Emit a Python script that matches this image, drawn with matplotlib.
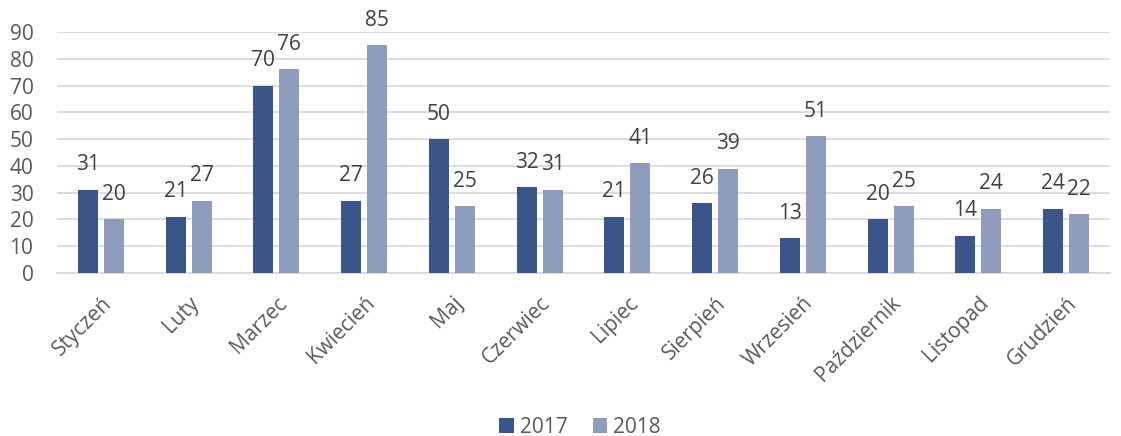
import matplotlib
matplotlib.use("Agg")
import matplotlib.pyplot as plt
import numpy as np

plt.rcParams['font.family'] = ['Open Sans', 'DejaVu Sans']

months = ["Styczeń", "Luty", "Marzec", "Kwiecień", "Maj", "Czerwiec", "Lipiec",
          "Sierpień", "Wrzesień", "Październik", "Listopad", "Grudzień"]
v2017 = [31, 21, 70, 27, 50, 32, 21, 26, 13, 20, 14, 24]
v2018 = [20, 27, 76, 85, 25, 31, 41, 39, 51, 25, 24, 22]
series_names = ["2017", "2018"]
colors = ["#3A5589", "#8F9DBC"]
yticks = list(range(0, 100, 10))

fs = 15

fig = plt.figure(figsize=(11.21, 4.36), dpi=100)
ax = fig.add_axes([57/1121, 1-273/436, (1110-57)/1121, (273-32)/436])

x = np.arange(len(months))
bw = 0.228
off = 0.148
b1 = ax.bar(x - off, v2017, bw, color=colors[0], label=series_names[0], zorder=3)
b2 = ax.bar(x + off, v2018, bw, color=colors[1], label=series_names[1], zorder=3)

txt_color = "#404040"
for bars, vals in ((b1, v2017), (b2, v2018)):
    for rect, v in zip(bars, vals):
        ax.annotate(str(v), (rect.get_x() + rect.get_width()/2, v),
                    xytext=(0, 18), textcoords="offset points",
                    ha="center", va="center", fontsize=fs, color=txt_color)

ax.set_xlim(-0.5, len(months) - 0.5)
ax.set_ylim(0, 90)
ax.set_yticks(yticks)
ax.yaxis.grid(True, color="#D9D9D9", linewidth=1.3, zorder=0)
ax.set_axisbelow(True)
for s in ["top", "right", "left"]:
    ax.spines[s].set_visible(False)
ax.spines["bottom"].set_color("#D9D9D9")
ax.spines["bottom"].set_linewidth(1.3)
ax.tick_params(axis="both", length=0, labelsize=fs, labelcolor="#595959")
ax.tick_params(axis="y", pad=17)
ax.set_xticks(x)
ax.set_xticklabels(months, rotation=45, ha="right", rotation_mode="anchor")
ax.tick_params(axis="x", pad=14)

fig.legend(handles=[b1, b2], labels=series_names, loc="center", bbox_to_anchor=(580/1121, 1-427/436),
           ncol=2, frameon=False, fontsize=fs, labelcolor="#595959",
           handlelength=0.7, handleheight=0.7, handletextpad=0.3, columnspacing=1.2)

fig.savefig("out.png", dpi=100)
